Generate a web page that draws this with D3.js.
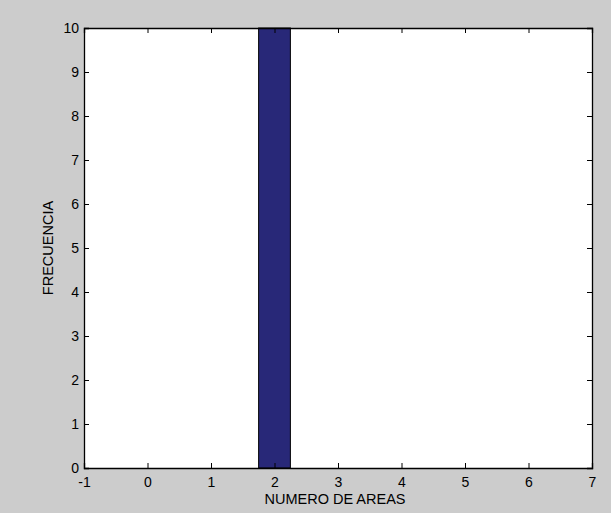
<!DOCTYPE html>
<html><head><meta charset="utf-8">
<script src="https://cdn.jsdelivr.net/npm/d3@7"></script>
<style>body{margin:0;background:#cccccc;}svg{display:block;}</style>
</head><body>
<script>
const binCenters = [2];
const counts = [10];
const barWidth = 0.5;
const xTicks = [-1,0,1,2,3,4,5,6,7];
const yTicks = [0,1,2,3,4,5,6,7,8,9,10];
const xLabel = "NUMERO DE AREAS";
const yLabel = "FRECUENCIA";

const W=611,H=513;
const m={l:84,t:28,r:592,b:468};
const svg=d3.select("body").append("svg").attr("width",W).attr("height",H);
svg.append("rect").attr("width",W).attr("height",H).attr("fill","#cccccc");
const x=d3.scaleLinear().domain([-1,7]).range([m.l,m.r]);
const y=d3.scaleLinear().domain([0,10]).range([m.b,m.t]);
svg.append("rect").attr("x",m.l).attr("y",m.t).attr("width",m.r-m.l).attr("height",m.b-m.t).attr("fill","#fff");

svg.selectAll("rect.bar").data(binCenters).enter().append("rect").attr("class","bar")
 .attr("x",(d)=>x(d-barWidth/2)).attr("width",(d)=>x(d+barWidth/2)-x(d-barWidth/2))
 .attr("y",(d,i)=>y(counts[i])).attr("height",(d,i)=>y(0)-y(counts[i]))
 .attr("fill","#282878").attr("stroke","#000").attr("stroke-width",1);

const font="Liberation Sans, Arial, sans-serif";
const fmt=d=>String(d);
const tl=5;
const xb=d3.axisBottom(x).tickValues(xTicks).tickSize(-tl).tickFormat(fmt);
const gx=svg.append("g").attr("transform",`translate(0,${m.b})`).call(xb);
const xt=d3.axisTop(x).tickValues(xTicks).tickSize(-tl).tickFormat("");
svg.append("g").attr("transform",`translate(0,${m.t})`).call(xt);
const yl=d3.axisLeft(y).tickValues(yTicks).tickSize(-tl).tickPadding(5).tickFormat(fmt);
const gy=svg.append("g").attr("transform",`translate(${m.l},0)`).call(yl);
const yr=d3.axisRight(y).tickValues(yTicks).tickSize(-tl).tickFormat("");
svg.append("g").attr("transform",`translate(${m.r},0)`).call(yr);
svg.selectAll(".domain").attr("stroke","#000").attr("stroke-width",1.3);
svg.selectAll(".tick line").attr("stroke","#000");
svg.selectAll(".tick text").attr("font-family",font).attr("font-size",14).attr("fill","#000");
gx.selectAll(".tick text").attr("y",18.5).attr("dy",0);

svg.append("text").attr("x",335).attr("y",503.5).attr("text-anchor","middle")
 .attr("font-family",font).attr("font-size",14.5).text(xLabel);
svg.append("text").attr("transform",`translate(52.5,${(m.t+m.b)/2}) rotate(-90)`).attr("text-anchor","middle")
 .attr("font-family",font).attr("font-size",14.5).text(yLabel);
</script>
</body></html>
